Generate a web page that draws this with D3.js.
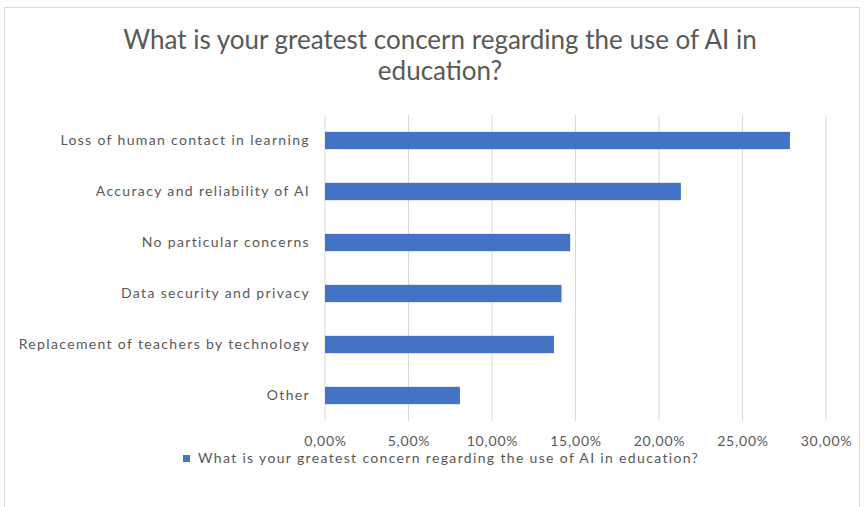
<!DOCTYPE html>
<html>
<head>
<meta charset="utf-8">
<script src="https://cdn.jsdelivr.net/npm/d3@7"></script>
<style>
  html, body { margin: 0; padding: 0; background: #fff; }
  svg { display: block; }
  text { font-family: Lato, "Open Sans", sans-serif; fill: #595959; }
</style>
</head>
<body>
<svg id="chart" width="867" height="507"></svg>
<script>
// Survey answers, in display order (top to bottom)
const categories = [
  "Loss of human contact in learning",
  "Accuracy and reliability of AI",
  "No particular concerns",
  "Data security and privacy",
  "Replacement of teachers by technology",
  "Other"
];
const shares = [0.2784, 0.2131, 0.1468, 0.1416, 0.1371, 0.0808];
const tickValues = [0, 0.05, 0.10, 0.15, 0.20, 0.25, 0.30];
const titleLines = ["What is your greatest concern regarding the use of AI in", "education?"];
const seriesName = "What is your greatest concern regarding the use of AI in education?";

const svg = d3.select("#chart");
const W = 867, H = 507;
const margin = { left: 325, right: 41, top: 115, bottom: 86 };

// chart frame
svg.append("rect")
  .attr("x", 4.5).attr("y", 7.5)
  .attr("width", 855).attr("height", 510)
  .attr("fill", "#fff").attr("stroke", "#d9d9d9");

const x = d3.scaleLinear().domain([0, 0.30]).range([margin.left, W - margin.right]);
const y = d3.scaleBand().domain(categories).range([margin.top, H - margin.bottom]).paddingInner(0.66).paddingOuter(0.33);

const pct = d => d3.format(".2f")(d * 100).replace(".", ",") + "%";

// vertical gridlines
svg.append("g").selectAll("line").data(tickValues).join("line")
  .attr("x1", d => x(d)).attr("x2", d => x(d))
  .attr("y1", margin.top).attr("y2", H - margin.bottom)
  .attr("stroke", "#d9d9d9").attr("stroke-width", 1);

// x axis tick labels
const xAxis = d3.axisBottom(x).tickValues(tickValues).tickFormat(pct).tickSize(0).tickPadding(0);
const gx = svg.append("g").attr("transform", `translate(0,${H - margin.bottom + 15})`).call(xAxis);
gx.select(".domain").remove();
gx.selectAll("text").attr("font-size", 14).attr("fill", "#595959")
  .style("font-family", "Lato, sans-serif").style("letter-spacing", "0.8px");

// y axis category labels
const yAxis = d3.axisLeft(y).tickSize(0).tickPadding(15);
const gy = svg.append("g").attr("transform", `translate(${margin.left},0)`).call(yAxis);
gy.select(".domain").remove();
gy.selectAll("text").attr("font-size", 14).attr("fill", "#595959")
  .style("font-family", "Lato, sans-serif").style("letter-spacing", "1.35px");

// bars
svg.append("g").selectAll("rect").data(categories).join("rect")
  .attr("x", x(0))
  .attr("y", d => y(d))
  .attr("width", (d, i) => x(shares[i]) - x(0))
  .attr("height", y.bandwidth())
  .attr("fill", "#4472C4");

// title
svg.append("g").selectAll("text").data(titleLines).join("text")
  .attr("x", 440).attr("y", (d, i) => 49 + i * 31)
  .attr("text-anchor", "middle")
  .attr("font-size", 26)
  .text(d => d);

// legend
const lg = svg.append("g").attr("transform", "translate(183,455)");
lg.append("rect").attr("width", 7).attr("height", 7).attr("fill", "#4472C4");
lg.append("text").attr("x", 15).attr("y", 8).attr("font-size", 14)
  .style("letter-spacing", "1.34px").text(seriesName);
</script>
</body>
</html>
